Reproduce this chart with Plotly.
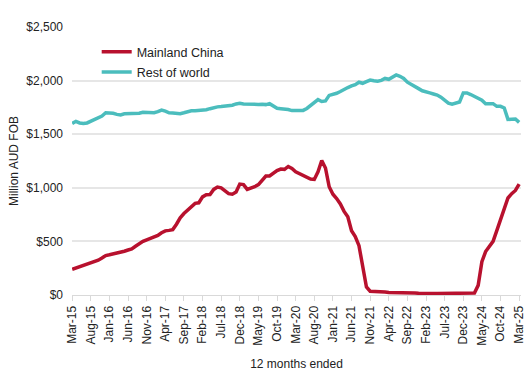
import pandas as pd
import plotly.graph_objects as go

months = [d.strftime("%b-%y") for d in pd.date_range("2015-03-01", "2025-03-01", freq="MS")]

mainland_china = [
    240, 252, 265, 278, 290, 300, 312, 325, 345, 368,
    375, 382, 395, 402, 408, 420, 430, 455, 480, 500,
    515, 528, 540, 555, 580, 598, 603, 610, 660, 720,
    760, 795, 825, 855, 860, 915, 935, 938, 985, 1007,
    1000, 975, 945, 940, 960, 1035, 1030, 985, 995, 1010,
    1030, 1070, 1110, 1110, 1140, 1160, 1175, 1172, 1199, 1180,
    1150, 1135, 1120, 1100, 1082, 1078, 1150, 1255, 1185, 1010,
    940, 900, 850, 780, 730, 600, 545, 460, 250, 75,
    35, 35, 35, 32, 28, 24, 24, 24, 25, 24,
    22, 20, 18, 16, 14, 14, 14, 14, 14, 14,
    14, 14, 14, 14, 14, 14, 14, 14, 18, 90,
    310, 405, 460, 500, 600, 700, 820, 905, 945, 975,
    1035,
]

rest_of_world = [
    1600, 1620, 1605, 1600, 1605, 1620, 1640, 1655, 1670, 1700,
    1700, 1695, 1685, 1680, 1690, 1692, 1692, 1692, 1695, 1705,
    1702, 1700, 1700, 1710, 1725, 1715, 1700, 1698, 1695, 1692,
    1700, 1712, 1718, 1718, 1720, 1722, 1728, 1738, 1750, 1755,
    1758, 1760, 1762, 1770, 1782, 1788, 1782, 1780, 1775, 1772,
    1778, 1780, 1776, 1785, 1762, 1742, 1738, 1735, 1730, 1720,
    1722, 1718, 1722, 1740, 1765, 1790, 1822, 1805, 1810, 1862,
    1870, 1882, 1898, 1920, 1935, 1950, 1962, 1985, 1975, 1990,
    2005, 1998, 1995, 2002, 2020, 2012, 2030, 2053, 2040, 2020,
    1985, 1962, 1940, 1925, 1905, 1892, 1885, 1875, 1865, 1845,
    1820, 1790, 1780, 1792, 1800, 1885, 1885, 1870, 1850, 1835,
    1818, 1785, 1788, 1785, 1760, 1760, 1745, 1638, 1640, 1642,
    1610,
]

x_tick_labels = months[::5]
y_ticks = [0, 500, 1000, 1500, 2000, 2500]
y_tick_labels = ["$0", "$500", "$1,000", "$1,500", "$2,000", "$2,500"]

RED = "#B8112E"
TEAL = "#4BBDBD"

fig = go.Figure()
fig.add_trace(go.Scatter(x=months, y=mainland_china, name="Mainland China",
                         legendgroup="a", mode="lines",
                         line=dict(color=RED, width=3.5)))
fig.add_trace(go.Scatter(x=months, y=rest_of_world, name="Rest of world",
                         legendgroup="b", mode="lines",
                         line=dict(color=TEAL, width=3.5)))

fig.update_layout(
    width=530, height=377,
    margin=dict(l=72, r=9, t=27, b=81.5),
    paper_bgcolor="white", plot_bgcolor="white",
    font=dict(family="Liberation Sans, Arial, sans-serif", size=12, color="#222222"),
    showlegend=True,
    legend=dict(x=0.055, y=0.9625, xanchor="left", yanchor="top",
                bgcolor="rgba(0,0,0,0)", font=dict(size=12.5, color="#222222"),
                traceorder="grouped", tracegroupgap=1, itemwidth=30),
)
fig.update_xaxes(
    type="category", range=[-0.05, 120.5],
    tickmode="array", tickvals=x_tick_labels, ticktext=x_tick_labels,
    tickangle=-90, tickfont=dict(size=12),
    ticks="outside", ticklen=5, tickcolor="#D9D9D9",
    showline=True, linecolor="#D9D9D9", linewidth=1,
    showgrid=False, automargin=False,
    title=dict(text="12 months ended", font=dict(size=12), standoff=14),
)
fig.update_yaxes(
    range=[0, 2500], tickmode="array", tickvals=y_ticks, ticktext=y_tick_labels,
    tickfont=dict(size=12), ticklabelstandoff=8,
    showgrid=True, gridcolor="#E6E6E6", gridwidth=1.5,
    zeroline=False, showline=False, automargin=False,
    title=dict(text="Million AUD FOB", font=dict(size=12), standoff=5),
)

fig.write_html(
    "out.html",
    config={"displayModeBar": False},
    post_script="document.body.style.margin='0';document.documentElement.style.overflow='hidden';",
)
